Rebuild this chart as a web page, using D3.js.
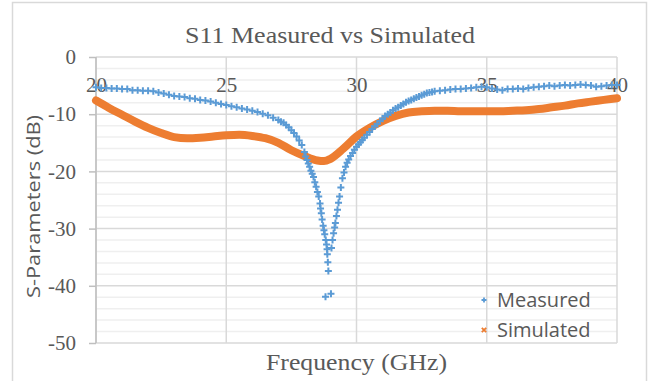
<!DOCTYPE html>
<meta charset="utf-8">
<style>
body { margin: 0; background: #fff; }
svg { display: block; }
.serif { font-family: 'Liberation Serif', 'Times New Roman', serif; fill: #595959; }
.sans { font-family: 'Open Sans', sans-serif; fill: #595959; }
.axis text { font-family: 'Liberation Serif', 'Times New Roman', serif; font-size: 21px; fill: #595959; }
.axis line, .axis path { stroke: #bfbfbf; stroke-width: 1.5; }
</style>
<body>
<svg width="649" height="381"></svg>
<script src="https://d3js.org/d3.v7.min.js"></script>
<script>

// measured S11 (blue +)
var measuredGHz = [
  20.0, 20.2, 20.4, 20.6, 20.8, 21.0, 21.2, 21.4, 21.6, 21.8,
  22.0, 22.2, 22.4, 22.6, 22.8, 23.0, 23.2, 23.4, 23.6, 23.8,
  24.0, 24.2, 24.4, 24.6, 24.8, 25.0, 25.2, 25.4, 25.6, 25.8,
  26.0, 26.2, 26.4, 26.6, 26.8, 27.0, 27.1, 27.2, 27.3, 27.4,
  27.5, 27.6, 27.7, 27.8, 27.9, 28.0, 28.05, 28.1, 28.15, 28.2,
  28.25, 28.3, 28.35, 28.4, 28.45, 28.5, 28.55, 28.6, 28.62, 28.65,
  28.68, 28.72, 28.75, 28.78, 28.81, 28.82, 28.85, 28.87, 28.88, 28.9,
  28.92, 29.02, 29.04, 29.08, 29.12, 29.16, 29.19, 29.23, 29.27, 29.31,
  29.35, 29.4, 29.46, 29.52, 29.58, 29.64, 29.7, 29.77, 29.85, 29.92,
  30.0, 30.08, 30.15, 30.22, 30.3, 30.4, 30.5, 30.6, 30.7, 30.8,
  30.9, 31.0, 31.1, 31.2, 31.3, 31.4, 31.5, 31.6, 31.7, 31.8,
  31.9, 32.0, 32.1, 32.2, 32.3, 32.4, 32.5, 32.6, 32.7, 32.8,
  32.9, 33.0, 33.2, 33.4, 33.6, 33.8, 34.0, 34.2, 34.4, 34.6,
  34.8, 35.0, 35.2, 35.4, 35.6, 35.8, 36.0, 36.2, 36.4, 36.6,
  36.8, 37.0, 37.2, 37.4, 37.6, 37.8, 38.0, 38.2, 38.4, 38.6,
  38.8, 39.0, 39.2, 39.4, 39.6, 39.8, 40.0
];
var measuredDb = [
  -5.3, -5.4, -5.4, -5.5, -5.5, -5.6, -5.6, -5.8, -5.8, -5.9,
  -5.9, -6.0, -6.2, -6.4, -6.6, -6.8, -6.9, -7.0, -7.2, -7.3,
  -7.5, -7.6, -7.8, -8.0, -8.2, -8.4, -8.6, -8.8, -9.0, -9.2,
  -9.4, -9.6, -9.9, -10.2, -10.6, -11.0, -11.3, -11.5, -11.9, -12.3,
  -12.8, -13.3, -13.9, -14.6, -15.4, -16.6, -17.4, -18.0, -18.6, -19.2,
  -19.9, -20.4, -21.0, -21.9, -22.7, -23.6, -24.4, -25.6, -26.5, -27.3,
  -28.4, -29.5, -30.3, -31.0, -41.9, -32.0, -32.8, -33.6, -34.5, -35.9,
  -37.4, -41.4, -33.4, -32.0, -30.8, -29.8, -29.0, -27.8, -26.7, -25.5,
  -24.4, -22.8, -21.2, -20.2, -19.2, -18.5, -17.9, -17.3, -16.8, -16.2,
  -15.7, -15.3, -14.9, -14.5, -14.1, -13.6, -13.1, -12.6, -12.1, -11.7,
  -11.2, -10.8, -10.3, -10.0, -9.7, -9.3, -9.0, -8.8, -8.5, -8.2,
  -7.9, -7.7, -7.5, -7.3, -7.1, -6.9, -6.7, -6.5, -6.3, -6.2,
  -6.1, -6.0, -5.9, -5.8, -5.7, -5.6, -5.6, -5.5, -5.4, -5.3,
  -5.2, -5.3, -5.5, -5.7, -5.8, -5.6, -5.6, -5.5, -5.6, -5.4,
  -5.3, -5.2, -5.1, -5.0, -5.1, -5.0, -4.9, -5.0, -4.9, -4.8,
  -4.9, -5.0, -5.2, -5.1, -5.0, -4.9, -4.9
];

// simulated S11 (orange)
var simGHz = [
  20, 20.5, 21, 21.5, 22, 22.5, 23, 23.5, 24, 24.5,
  25, 25.5, 26, 26.5, 27, 27.5, 28, 28.5, 28.75, 29,
  29.5, 30, 30.5, 31, 31.5, 32, 32.5, 33, 33.5, 34,
  34.5, 35, 35.5, 36, 36.5, 37, 37.5, 38, 38.5, 39,
  39.5, 40
];
var simDb = [
  -7.6, -8.9, -10.1, -11.3, -12.4, -13.3, -14.0, -14.2, -14.1, -13.9,
  -13.7, -13.6, -13.8, -14.2, -15.0, -16.3, -17.3, -18.1, -18.2, -17.8,
  -16.0, -13.9, -12.4, -11.2, -10.3, -9.7, -9.5, -9.4, -9.4, -9.5,
  -9.5, -9.5, -9.5, -9.4, -9.3, -9.1, -8.8, -8.5, -8.1, -7.8,
  -7.5, -7.2
];

var xTicks = [20, 25, 30, 35, 40];
var yTicks = [0, -10, -20, -30, -40, -50];
var yMinor = [-2, -4, -6, -8, -12, -14, -16, -18, -22, -24, -26, -28,
              -32, -34, -36, -38, -42, -44, -46, -48];
var seriesNames = ["Measured", "Simulated"];

var blue = "#5b9bd5", orange = "#ed7d31";

var svg = d3.select("svg");

// chart frame
svg.append("rect")
    .attr("x", 12.5).attr("y", 2.5)
    .attr("width", 634).attr("height", 400)
    .attr("fill", "#fff")
    .attr("stroke", "#d9d9d9")
    .attr("stroke-width", 1.5);

var x = d3.scaleLinear().domain([20, 40]).range([96, 617]);
var y = d3.scaleLinear().domain([0, -50]).range([57, 343]);

var grid = svg.append("g");

grid.selectAll(".minor")
    .data(yMinor)
    .enter().append("line")
    .attr("x1", x(20)).attr("x2", x(40))
    .attr("y1", y).attr("y2", y)
    .attr("stroke", "#efefef")
    .attr("stroke-width", 1.5);

grid.selectAll(".hmajor")
    .data(yTicks)
    .enter().append("line")
    .attr("x1", x(20)).attr("x2", x(40))
    .attr("y1", y).attr("y2", y)
    .attr("stroke", "#d9d9d9")
    .attr("stroke-width", 1.5);

grid.selectAll(".vmajor")
    .data(xTicks)
    .enter().append("line")
    .attr("x1", x).attr("x2", x)
    .attr("y1", y(0)).attr("y2", y(-50))
    .attr("stroke", "#d9d9d9")
    .attr("stroke-width", 1.5);

// y axis on the left
svg.append("g")
    .attr("class", "axis")
    .attr("transform", "translate(" + x(20) + ",0)")
    .call(d3.axisLeft(y).tickValues(yTicks).tickSize(7).tickPadding(13)
        .tickFormat(function(d) { return String(d); }))
    .call(function(g) { g.select(".domain").attr("d", "M0," + y(0) + "V" + y(-50)); });

// x axis labels sit under the 0 dB line
var xa = svg.append("g")
    .attr("class", "axis")
    .attr("transform", "translate(0," + y(0) + ")")
    .call(d3.axisBottom(x).tickValues(xTicks).tickSize(0).tickPadding(20)
        .tickFormat(function(d) { return String(d); }));
xa.select(".domain").remove();

// simulated: thick orange band
var line = d3.line()
    .x(function(d, i) { return x(simGHz[i]); })
    .y(function(d) { return y(d); })
    .curve(d3.curveMonotoneX);

svg.append("path")
    .datum(simDb)
    .attr("d", line)
    .attr("fill", "none")
    .attr("stroke", orange)
    .attr("stroke-width", 8)
    .attr("stroke-linecap", "round")
    .attr("stroke-linejoin", "round");

// measured: blue plus markers
var plus = "M-3.5,0H3.5M0,-3.5V3.5";
svg.append("g").selectAll("path")
    .data(measuredDb)
    .enter().append("path")
    .attr("transform", function(d, i) { return "translate(" + x(measuredGHz[i]) + "," + y(d) + ")"; })
    .attr("d", plus)
    .attr("stroke", blue)
    .attr("stroke-width", 2)
    .attr("fill", "none");

// titles
svg.append("text")
    .attr("class", "serif")
    .attr("x", 330).attr("y", 43)
    .attr("text-anchor", "middle")
    .attr("font-size", 24)
    .attr("textLength", 290)
    .attr("lengthAdjust", "spacingAndGlyphs")
    .text("S11 Measured vs Simulated");

svg.append("text")
    .attr("class", "serif")
    .attr("x", 356.5).attr("y", 370)
    .attr("text-anchor", "middle")
    .attr("font-size", 24)
    .attr("textLength", 181)
    .attr("lengthAdjust", "spacingAndGlyphs")
    .text("Frequency (GHz)");

svg.append("text")
    .attr("class", "sans")
    .attr("transform", "translate(40,206.5) rotate(-90)")
    .attr("text-anchor", "middle")
    .attr("font-size", 18)
    .attr("textLength", 183)
    .attr("lengthAdjust", "spacingAndGlyphs")
    .text("S-Parameters (dB)");

// legend
var legend = svg.append("g");
var lg = legend.selectAll("g")
    .data(seriesNames)
    .enter().append("g")
    .attr("transform", function(d, i) { return "translate(484," + (300 + i * 30) + ")"; });

lg.append("path")
    .attr("d", function(d, i) { return i == 0 ? "M-2.5,0H2.5M0,-2.5V2.5" : "M-2.2,-2.2L2.2,2.2M-2.2,2.2L2.2,-2.2"; })
    .attr("stroke", function(d, i) { return i == 0 ? blue : orange; })
    .attr("stroke-width", 1.8);

lg.append("text")
    .attr("class", "sans")
    .attr("x", 13).attr("y", 7)
    .attr("font-size", 20)
    .text(function(d) { return d; });

</script>
</body>
